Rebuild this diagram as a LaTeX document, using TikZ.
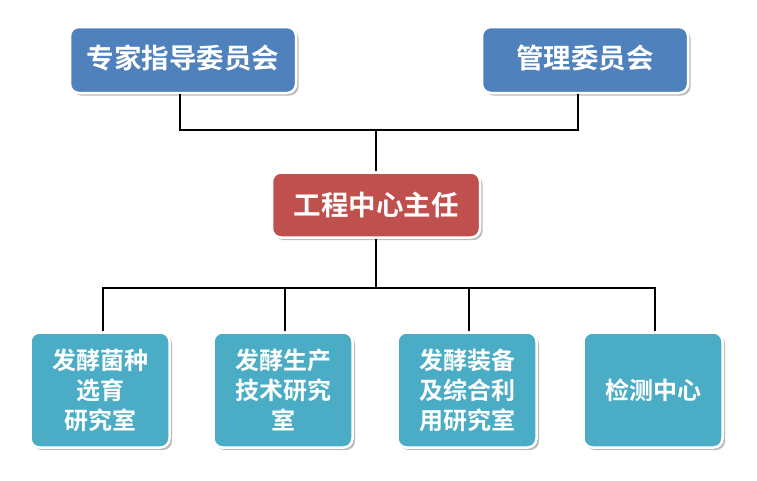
\documentclass[tikz,border=0pt]{standalone}
\usepackage{fontspec}
\newfontfamily\cjk{Noto Sans CJK SC}[BoldFont={Noto Sans CJK SC Bold}]
\usetikzlibrary{shadows}
\definecolor{topblue}{HTML}{4F81BD}
\definecolor{chiefred}{HTML}{C0504D}
\definecolor{labteal}{HTML}{4BACC6}
\tikzset{
  box/.style={rectangle, rounded corners=9pt, draw=white, line width=2.5pt,
    text=white, font=\cjk\bfseries, align=center, inner sep=0pt,
    drop shadow={shadow xshift=2.5pt, shadow yshift=-2.5pt, fill=black!45, opacity=0.6}},
  topbox/.style={box, fill=topblue, minimum height=66pt, font=\cjk\bfseries\fontsize{27.5}{30}\selectfont},
  chiefbox/.style={box, fill=chiefred, minimum height=65pt, font=\cjk\bfseries\fontsize{27.5}{30}\selectfont},
  labbox/.style={box, fill=labteal, minimum width=139pt, minimum height=115pt, font=\cjk\bfseries\fontsize{24}{30}\selectfont},
  conn/.style={draw=black, line width=2.4pt}
}
\begin{document}
\begin{tikzpicture}[x=1pt,y=-1pt]
\useasboundingbox (0,0) rectangle (757,480);
\node[topbox, minimum width=226pt] (exp) at (183,60) {\raisebox{6pt}{专家指导委员会}};
\node[topbox, minimum width=206pt] (mgr) at (585,60) {\raisebox{6pt}{管理委员会}};
\node[chiefbox, minimum width=208pt] (chief) at (376,205) {工程中心主任};
\node[labbox] (l1) at (100,390) {发酵菌种\\选育\\研究室};
\node[labbox] (l2) at (283,390) {发酵生产\\技术研究\\室};
\node[labbox] (l3) at (467,390) {发酵装备\\及综合利\\用研究室};
\node[labbox] (l4) at (653,390) {检测中心};
\coordinate (topbar) at (376,130);
\coordinate (botbar) at (376,288);
\draw[conn] ([xshift=-3pt]exp.south) |- (topbar) -| ([xshift=-7pt]mgr.south);
\draw[conn] (topbar) -- (chief.north);
\draw[conn] (chief.south) -- (botbar);
\draw[conn] ([xshift=3pt]l1.north) |- (botbar) -| ([xshift=2pt]l4.north);
\draw[conn] ([xshift=2pt]l2.north) |- (botbar);
\draw[conn] ([xshift=2pt]l3.north) |- (botbar);
\end{tikzpicture}
\end{document}
